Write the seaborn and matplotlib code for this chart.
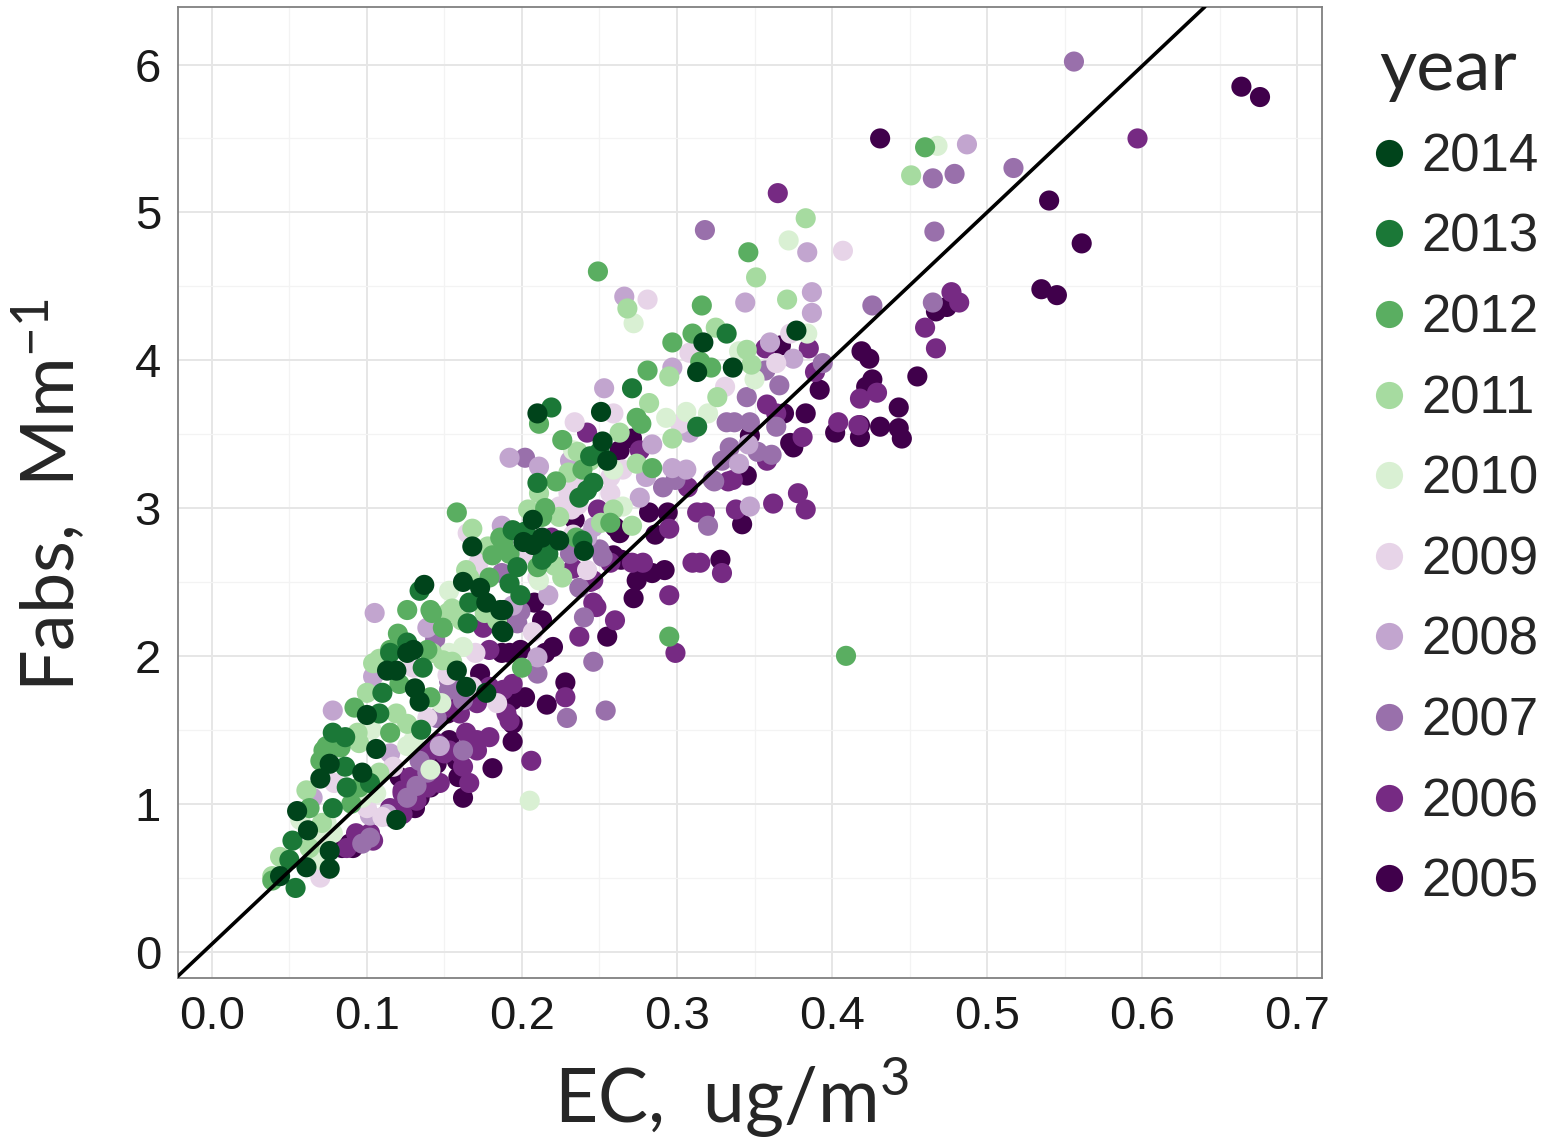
import matplotlib
matplotlib.use("Agg")
import matplotlib.pyplot as plt
import seaborn as sns
import pandas as pd
import numpy as np

# ---------------- data (EC ug/m3, Fabs Mm-1) ----------------
years = [2005, 2006, 2007, 2008, 2009, 2010, 2011, 2012, 2013, 2014]

pts_2005 = [(0.664,5.85),(0.676,5.78),(0.431,5.50),(0.540,5.08),(0.561,4.79),(0.535,4.48),(0.545,4.44),
            (0.474,4.36),(0.467,4.33),(0.455,3.89),(0.419,4.06),(0.424,4.01),(0.426,3.87),(0.422,3.82),
            (0.443,3.68),(0.443,3.54),(0.445,3.47),(0.431,3.55),(0.418,3.56),(0.418,3.48),(0.402,3.51),
            (0.392,3.80),(0.383,3.64),(0.369,3.64),(0.373,3.44),(0.375,3.41),(0.347,3.49),(0.367,4.10),
            (0.345,3.22),(0.342,2.89),(0.328,2.65),(0.294,2.97),(0.282,2.97),(0.286,2.82),(0.271,3.47),
            (0.263,3.39),(0.260,2.87),(0.263,2.83),(0.259,2.68),(0.264,2.65),(0.284,2.56),(0.292,2.58),
            (0.274,2.51),(0.272,2.39),(0.255,2.13),(0.234,2.92),(0.228,1.82),(0.216,1.67),(0.202,1.72),
            (0.194,1.54),(0.194,1.42),(0.215,2.02),(0.220,2.06),(0.192,2.02),(0.199,2.04),(0.213,2.24),
            (0.208,2.36),(0.187,2.02),(0.173,1.88),(0.194,1.70),(0.152,1.61),(0.153,1.43),(0.158,1.29),
            (0.145,1.27),(0.141,1.11),(0.162,1.04),(0.159,1.18),(0.155,1.38),(0.181,1.24),(0.121,1.18),
            (0.126,0.97),(0.131,0.97),(0.128,1.02),(0.134,1.04),(0.089,0.73),(0.084,0.70),(0.091,0.70)]

pts_2006 = [(0.597,5.50),(0.365,5.13),(0.477,4.46),(0.482,4.39),(0.460,4.22),(0.467,4.08),(0.429,3.78),
            (0.418,3.74),(0.417,3.56),(0.404,3.58),(0.385,4.08),(0.389,3.92),(0.357,4.08),(0.358,3.70),
            (0.364,3.64),(0.381,3.48),(0.358,3.32),(0.333,3.18),(0.336,3.19),(0.378,3.10),(0.383,2.99),
            (0.362,3.03),(0.338,2.99),(0.318,2.97),(0.329,2.56),(0.315,2.63),(0.307,3.14),(0.313,2.97),
            (0.295,2.86),(0.310,2.63),(0.278,2.63),(0.271,2.63),(0.295,2.41),(0.248,2.33),(0.260,2.24),
            (0.237,2.13),(0.299,2.02),(0.228,1.72),(0.206,1.29),(0.194,1.81),(0.190,1.61),(0.242,3.51),
            (0.276,3.39),(0.249,2.99),(0.219,2.80),(0.244,2.50),(0.257,2.63),(0.233,2.59),(0.246,2.51),
            (0.246,2.36),(0.175,2.19),(0.195,2.24),(0.179,2.04),(0.171,1.68),(0.179,1.79),(0.188,1.77),
            (0.192,1.56),(0.160,1.61),(0.153,1.65),(0.145,1.41),(0.153,1.36),(0.147,1.14),(0.123,1.07),
            (0.115,0.97),(0.123,0.93),(0.093,0.80),(0.087,0.70),(0.102,0.80),(0.097,0.75),(0.104,0.75),
            (0.116,0.91),(0.123,1.09),(0.128,1.18),(0.139,1.11),(0.142,1.18),(0.139,1.34),(0.150,1.34),
            (0.160,1.34),(0.162,1.25),(0.166,1.14),(0.171,1.36),(0.179,1.45),(0.171,1.43),(0.164,1.48),
            (0.132,1.02)]

pts_2007 = [(0.556,6.02),(0.465,5.23),(0.479,5.26),(0.517,5.30),(0.318,4.88),(0.466,4.87),(0.426,4.37),
            (0.465,4.39),(0.394,3.98),(0.357,3.93),(0.366,3.83),(0.345,3.75),(0.332,3.58),(0.337,3.58),
            (0.347,3.58),(0.364,3.55),(0.334,3.41),(0.352,3.38),(0.361,3.36),(0.324,3.18),(0.320,2.88),
            (0.329,3.32),(0.299,3.19),(0.291,3.14),(0.323,3.19),(0.202,3.34),(0.246,1.96),(0.240,2.26),
            (0.254,1.63),(0.229,1.58),(0.210,1.88),(0.197,2.22),(0.231,2.69),(0.250,2.72),(0.237,2.46),
            (0.187,2.56),(0.252,2.67),(0.199,2.30),(0.144,2.11),(0.153,1.77),(0.162,1.70),(0.145,1.58),
            (0.162,1.36),(0.139,1.21),(0.126,1.04),(0.132,1.12),(0.134,1.29),(0.102,0.77),(0.097,0.73),
            (0.153,1.83)]

pts_2008 = [(0.487,5.46),(0.384,4.73),(0.266,4.43),(0.344,4.39),(0.387,4.46),(0.387,4.32),(0.360,4.12),
            (0.375,4.01),(0.253,3.81),(0.308,3.51),(0.297,3.95),(0.347,3.01),(0.340,3.30),(0.346,3.43),
            (0.306,3.26),(0.297,3.27),(0.284,3.43),(0.280,3.21),(0.276,3.07),(0.231,3.32),(0.211,3.28),
            (0.192,3.34),(0.187,2.88),(0.246,2.87),(0.242,2.80),(0.217,2.41),(0.194,2.34),(0.210,1.99),
            (0.139,2.19),(0.105,2.29),(0.104,1.86),(0.078,1.63),(0.115,1.34),(0.065,1.04),(0.102,0.92),
            (0.113,0.93),(0.147,1.39)]

pts_2009 = [(0.281,4.41),(0.407,4.74),(0.364,3.98),(0.373,4.18),(0.331,3.82),(0.308,4.05),(0.259,3.64),
            (0.234,3.58),(0.302,3.57),(0.265,3.26),(0.257,3.21),(0.257,3.10),(0.232,2.99),(0.235,3.18),
            (0.230,3.10),(0.224,3.01),(0.236,3.02),(0.165,2.83),(0.233,2.82),(0.204,2.69),(0.172,2.63),
            (0.242,2.58),(0.210,2.53),(0.207,2.16),(0.171,2.61),(0.170,2.02),(0.168,1.79),(0.152,1.87),
            (0.130,1.92),(0.139,1.58),(0.184,1.68),(0.079,1.14),(0.117,1.25),(0.100,0.97),(0.070,0.77),
            (0.068,0.57),(0.070,0.50),(0.110,0.91)]

pts_2010 = [(0.468,5.45),(0.372,4.81),(0.272,4.25),(0.384,4.18),(0.340,4.06),(0.350,3.87),(0.320,3.64),
            (0.306,3.65),(0.293,3.61),(0.265,3.01),(0.259,3.26),(0.233,3.39),(0.211,2.51),(0.153,2.44),
            (0.205,1.02),(0.148,1.68),(0.162,2.06),(0.153,2.02),(0.103,1.50),(0.126,1.39),(0.130,1.43),
            (0.106,1.07),(0.097,1.04),(0.141,1.23),(0.078,0.80),(0.070,0.62),(0.057,0.89),(0.074,0.87),
            (0.068,0.75)]

pts_2011 = [(0.451,5.25),(0.383,4.96),(0.351,4.56),(0.371,4.41),(0.268,4.35),(0.325,4.22),(0.345,4.07),
            (0.348,3.97),(0.295,3.89),(0.282,3.71),(0.326,3.75),(0.263,3.51),(0.297,3.47),(0.274,3.30),
            (0.236,3.38),(0.244,3.32),(0.230,3.24),(0.211,3.10),(0.204,2.99),(0.259,2.99),(0.251,2.90),
            (0.271,2.88),(0.224,2.94),(0.168,2.86),(0.178,2.74),(0.221,2.61),(0.226,2.53),(0.166,2.53),
            (0.164,2.58),(0.152,2.29),(0.176,2.29),(0.184,2.24),(0.155,2.32),(0.161,2.24),(0.108,1.98),
            (0.142,2.02),(0.149,1.97),(0.155,1.96),(0.100,1.75),(0.119,1.61),(0.126,1.54),(0.094,1.48),
            (0.095,1.41),(0.108,1.21),(0.061,1.09),(0.071,0.87),(0.063,0.70),(0.044,0.64),(0.039,0.51),
            (0.104,1.95)]

pts_2012 = [(0.460,5.44),(0.346,4.73),(0.249,4.60),(0.316,4.37),(0.409,2.00),(0.310,4.18),(0.297,4.12),
            (0.315,3.99),(0.322,3.95),(0.281,3.93),(0.274,3.61),(0.277,3.57),(0.226,3.46),(0.211,3.57),
            (0.239,3.26),(0.222,3.18),(0.284,3.27),(0.257,2.90),(0.213,2.94),(0.215,3.00),(0.158,2.97),
            (0.188,2.76),(0.181,2.68),(0.192,2.69),(0.235,2.80),(0.210,2.60),(0.186,2.80),(0.179,2.53),
            (0.141,2.31),(0.126,2.31),(0.142,2.29),(0.149,2.19),(0.120,2.15),(0.115,2.04),(0.139,2.04),
            (0.121,1.81),(0.141,1.72),(0.092,1.65),(0.115,1.48),(0.072,1.36),(0.083,1.38),(0.074,1.39),
            (0.070,1.29),(0.095,1.11),(0.090,1.00),(0.063,0.97),(0.039,0.48),(0.295,2.13),(0.200,1.92)]

pts_2013 = [(0.271,3.81),(0.219,3.68),(0.332,4.18),(0.313,3.55),(0.250,3.38),(0.244,3.35),(0.210,3.17),
            (0.246,3.17),(0.237,3.07),(0.242,3.12),(0.194,2.85),(0.202,2.84),(0.239,2.78),(0.217,2.69),
            (0.213,2.65),(0.197,2.60),(0.192,2.49),(0.199,2.41),(0.134,2.44),(0.166,2.36),(0.165,2.22),
            (0.126,2.09),(0.115,2.02),(0.136,1.92),(0.110,1.75),(0.108,1.61),(0.135,1.50),(0.078,1.48),
            (0.086,1.45),(0.086,1.25),(0.087,1.11),(0.102,1.14),(0.078,0.97),(0.052,0.75),(0.050,0.62),
            (0.054,0.43)]

pts_2014 = [(0.377,4.20),(0.317,4.12),(0.336,3.95),(0.313,3.92),(0.210,3.64),(0.251,3.65),(0.252,3.45),
            (0.255,3.32),(0.201,2.77),(0.207,2.75),(0.213,2.80),(0.224,2.78),(0.207,2.92),(0.240,2.71),
            (0.188,2.31),(0.188,2.16),(0.168,2.74),(0.137,2.48),(0.162,2.50),(0.173,2.46),(0.177,2.36),
            (0.186,2.31),(0.187,2.17),(0.126,2.02),(0.130,2.04),(0.158,1.90),(0.164,1.79),(0.177,1.75),
            (0.119,1.90),(0.113,1.90),(0.131,1.78),(0.134,1.69),(0.100,1.60),(0.106,1.37),(0.076,1.27),
            (0.097,1.21),(0.070,1.17),(0.055,0.95),(0.062,0.82),(0.076,0.68),(0.076,0.56),(0.061,0.57),
            (0.044,0.51),(0.119,0.89)]

points_by_year = {2005: pts_2005, 2006: pts_2006, 2007: pts_2007, 2008: pts_2008, 2009: pts_2009,
                  2010: pts_2010, 2011: pts_2011, 2012: pts_2012, 2013: pts_2013, 2014: pts_2014}

year_colors = ["#40004b", "#762a83", "#9970ab", "#c2a5cf", "#e7d4e8",
               "#d9f0d3", "#a6dba0", "#5aae61", "#1b7837", "#00441b"]

x_ticks = [0.0, 0.1, 0.2, 0.3, 0.4, 0.5, 0.6, 0.7]
x_tick_labels = ["0.0", "0.1", "0.2", "0.3", "0.4", "0.5", "0.6", "0.7"]
x_minor = [0.05, 0.15, 0.25, 0.35, 0.45, 0.55, 0.65]
y_ticks = [0, 1, 2, 3, 4, 5, 6]
y_tick_labels = ["0", "1", "2", "3", "4", "5", "6"]
y_minor = [0.5, 1.5, 2.5, 3.5, 4.5, 5.5]

LINE_INTERCEPT = 0.05
LINE_SLOPE = 9.9

# ---------------- build table ----------------
rows = []
for yr in years:
    for ec, fa in points_by_year[yr]:
        rows.append({"EC": ec, "Fabs": fa, "year": str(yr)})
df = pd.DataFrame(rows)

palette = {str(y): c for y, c in zip(years, year_colors)}
hue_order = [str(y) for y in reversed(years)]

# ---------------- figure ----------------
sns.set_style("white")
plt.rcParams["font.family"] = ["Liberation Sans", "DejaVu Sans"]
plt.rcParams["mathtext.default"] = "regular"

fig = plt.figure(figsize=(15.59, 11.44), dpi=100)
ax = fig.add_axes([0.114, 0.145, 0.734, 0.849])

sns.scatterplot(data=df, x="EC", y="Fabs", hue="year", hue_order=hue_order,
                palette=palette, s=210, linewidth=0, alpha=1.0, ax=ax, zorder=2)

ax.axline((0, LINE_INTERCEPT), slope=LINE_SLOPE, color="black", lw=2.6, zorder=3)

ax.set_xticks(x_ticks)
ax.set_xticklabels(x_tick_labels)
ax.set_yticks(y_ticks)
ax.set_yticklabels(y_tick_labels)
ax.set_xticks(x_minor, minor=True)
ax.set_yticks(y_minor, minor=True)

ax.set_xlim(-0.022, 0.716)
ax.set_ylim(-0.18, 6.39)

ax.grid(which="major", color="#e6e6e6", lw=1.4, zorder=0)
ax.grid(which="minor", color="#f3f3f3", lw=0.9, zorder=0)
ax.set_axisbelow(True)

ax.tick_params(axis="both", which="major", labelsize=34, length=6, width=1.2,
               color="#555555", labelcolor="#1a1a1a", pad=6)
ax.tick_params(axis="both", which="minor", length=0)

for sp in ax.spines.values():
    sp.set_color("#808080")
    sp.set_linewidth(1.3)

ax.set_xlabel("EC,  ug/m$^{3}$", fontsize=54, family=["Lato", "DejaVu Sans"])
ax.set_ylabel("Fabs,  Mm$^{-1}$", fontsize=53, family=["Lato", "DejaVu Sans"])
ax.xaxis.set_label_coords(0.484, -0.080)
ax.yaxis.set_label_coords(-0.078, 0.497)

sns.move_legend(ax, "upper left", bbox_to_anchor=(0.854, 0.991), bbox_transform=fig.transFigure,
                frameon=False, title="year", fontsize=38, title_fontsize=52,
                markerscale=1.35, labelspacing=0.58, handlelength=1.2, handletextpad=0.0,
                borderpad=0.0)
leg = ax.get_legend()
leg.get_title().set_family(["Lato", "DejaVu Sans"])

fig.savefig("out.png", dpi=100)
